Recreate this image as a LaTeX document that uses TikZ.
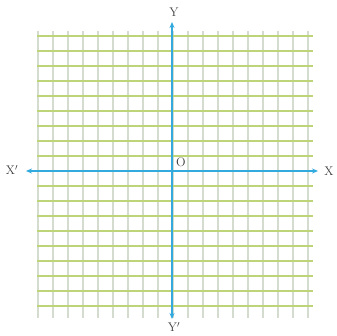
\documentclass[tikz,border=0pt]{standalone}
\usetikzlibrary{arrows.meta}
\definecolor{hgrid}{RGB}{190,212,120}
\definecolor{vgrid}{RGB}{212,220,208}
\definecolor{axisblue}{RGB}{50,170,222}
\definecolor{labelgray}{RGB}{60,60,60}
\begin{document}
\begin{tikzpicture}[x=1pt,y=-1pt,
  hline/.style={draw=hgrid,line width=1.8pt},
  vline/.style={draw=vgrid,line width=1.4pt},
  axisline/.style={draw=axisblue,line width=1.5pt,{Stealth[length=6pt,width=5pt]}-{Stealth[length=6pt,width=5pt]}},
  lbl/.style={text=labelgray,inner sep=0pt,font=\fontsize{12.5}{13}\selectfont}]
\useasboundingbox (0,0) rectangle (337,335);
\foreach \i in {0,...,18}{
  \draw[vline] ({38+15*\i},31) -- ({38+15*\i},318);
}
\foreach \j in {0,...,18}{
  \draw[hline] (37,{36+15*\j}) -- (313,{36+15*\j});
}
\coordinate (xl) at (26,171);
\coordinate (xr) at (318,171);
\coordinate (yt) at (172,22);
\coordinate (yb) at (172,319);
\draw[axisline] (xl) -- (xr);
\draw[axisline] (yb) -- (yt);
\node[lbl] (Xl) at (12,170) {X$'$};
\node[lbl] (Xr) at (329,171) {X};
\node[lbl] (Yt) at (174,12) {Y};
\node[lbl] (Yb) at (174,327) {Y$'$};
\node[lbl] (O) at (181,162) {O};
\end{tikzpicture}
\end{document}
